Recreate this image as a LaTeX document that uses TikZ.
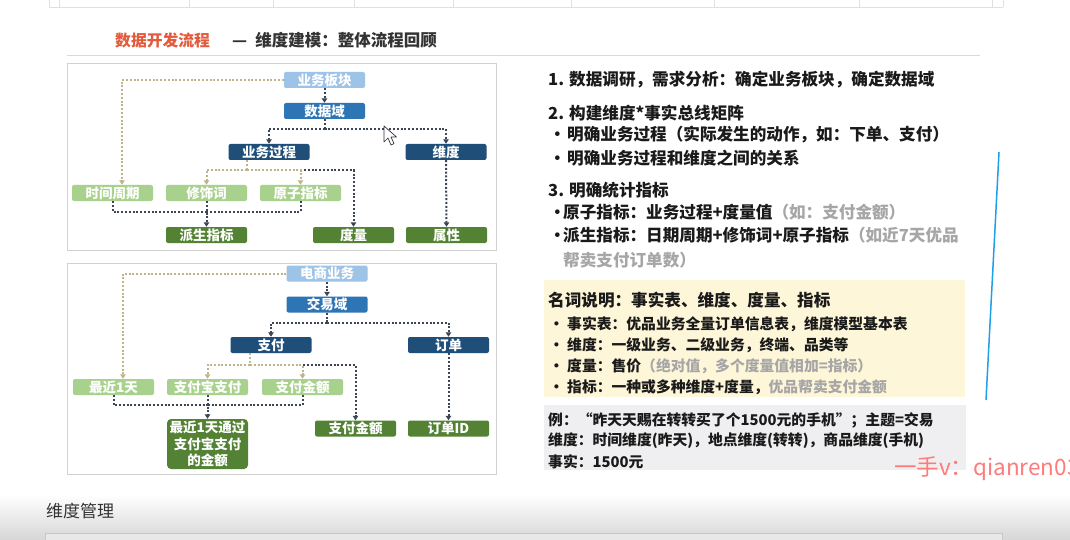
\documentclass[tikz,border=0pt]{standalone}
\usepackage{fontspec}
\setmainfont{Noto Sans CJK SC}
\usetikzlibrary{arrows.meta}
\definecolor{lblue}{HTML}{9DC3E6}
\definecolor{mblue}{HTML}{2E75B6}
\definecolor{navy}{HTML}{1F4E79}
\definecolor{lgreen}{HTML}{A9D18E}
\definecolor{dgreen}{HTML}{548235}
\definecolor{tanc}{HTML}{BEB58C}
\definecolor{dkc}{HTML}{3C4656}
\definecolor{titred}{HTML}{E35B3C}
\definecolor{txtc}{HTML}{1A1A1A}
\definecolor{lgray}{HTML}{A6A6A6}
\definecolor{ybox}{HTML}{FEF6D9}
\definecolor{gbox}{HTML}{EFEFF1}
\definecolor{wmark}{HTML}{FF7B7B}
\definecolor{bline}{HTML}{1EA0E6}
\begin{document}
\begin{tikzpicture}[x=1pt,y=-1pt,
  nbox/.style={minimum width=81pt,minimum height=16pt,inner sep=0pt,rounded corners=2pt,
     text=white,font=\fontsize{13.5}{15}\selectfont\bfseries},
  lb/.style={nbox,fill=lblue},
  mb/.style={nbox,fill=mblue},
  nv/.style={nbox,fill=navy},
  lg/.style={nbox,fill=lgreen},
  dg/.style={nbox,fill=dgreen},
  dotl/.style={line width=2pt,dash pattern=on 2pt off 1.8pt},
  tanl/.style={dotl,draw=tanc},
  dkl/.style={dotl,draw=dkc},
  arr/.style={-{Triangle[length=4.5pt,width=5.5pt]}},
  txt/.style={anchor=west,inner sep=0pt,text=txtc,font=\fontsize{16.6}{18}\selectfont\bfseries},
  stxt/.style={anchor=west,inner sep=0pt,text=txtc,font=\fontsize{14.8}{16}\selectfont\bfseries},
  panel/.style={draw=black!18,line width=0.8pt,fill=white}
]
\useasboundingbox (0,0) rectangle (1070,540);
\clip (0,0) rectangle (1070,540);
\fill[white] (0,0) rectangle (1070,540);

% faint table at top
\draw[black!12,line width=0.6pt] (49,7) -- (1003,7);
\foreach \xx in {49,59,189,273,354,453,571,714,859,992,1003}
  \draw[black!12,line width=0.6pt] (\xx,0) -- (\xx,7);

% title
\node[anchor=west,inner sep=0pt,text=titred,font=\fontsize{15.8}{17}\selectfont\bfseries] (tt1) at (115,40) {数据开发流程};
\node[anchor=west,inner sep=0pt,text=black!80,font=\fontsize{16.5}{18}\selectfont\bfseries] (tt2) at (232,40) {—\hspace{8pt}维度建模：整体流程回顾};
\draw[black!15,line width=0.8pt] (67,55) -- (980,55);

% panels
\draw[panel] (67,63) rectangle (496,250);
\draw[panel] (67,263) rectangle (496,474);

% ---- top diagram ----
\node[lb] (bk) at (324.5,80) {业务板块};
\node[mb] (sjy) at (324.5,111) {数据域};
\node[nv] (gc) at (269,152) {业务过程};
\node[nv] (wd) at (446,152) {维度};
\node[lg] (sq) at (112.5,193) {时间周期};
\node[lg] (xs) at (206.5,193) {修饰词};
\node[lg] (yz) at (300.5,193) {原子指标};
\node[dg] (ps) at (206.5,235) {派生指标};
\node[dg] (dl) at (353.5,235) {度量};
\node[dg] (sx) at (446.5,235) {属性};

\coordinate (j1) at (324.5,129);
\coordinate (j2) at (247,170);
\coordinate (j3) at (206.5,211.5);

\draw[tanl,arr] (bk.west) -| ([xshift=9.5pt]sq.north);
\draw[dkl,arr] (bk.south) -- (sjy.north);
\draw[dkl] (sjy.south) -- (j1);
\draw[dkl,arr] (j1) -| (gc.north);
\draw[dkl,arr] (j1) -| (wd.north);
\draw[tanl] ([xshift=-22pt]gc.south) -- (j2);
\draw[dkl,arr] (j2) -| (dl.north);
\draw[tanl,arr] (j2) -| (xs.north);
\draw[tanl,arr] (j2) -| (yz.north);
\draw[dkl] (sq.south) |- (j3);
\draw[dkl] (yz.south) |- (j3);
\draw[dkl,arr] (xs.south) -- (ps.north);
\draw[dkl,arr] (wd.south) -- (sx.north);

% cursor
\draw[black!80,fill=white,line width=0.7pt,line join=round] (384,126) -- ++(0,16) -- ++(4,-4) -- ++(3,7) -- ++(3,-1.4) -- ++(-3,-6.6) -- ++(5.5,0) -- cycle;

% ---- bottom diagram ----
\node[lb] (ds) at (327,273.5) {电商业务};
\node[mb] (jy) at (327,304.5) {交易域};
\node[nv] (zf) at (271,345) {支付};
\node[nv] (dd) at (448.5,345) {订单};
\node[lg] (zj) at (113.5,387) {最近1天};
\node[lg] (zfb) at (207.5,387) {支付宝支付};
\node[lg] (je) at (302.5,387) {支付金额};
\node[dg,minimum height=50pt,rounded corners=4pt,align=center,font=\fontsize{13.5}{16.5}\selectfont\bfseries] (res) at (207.5,444) {最近1天通过\\支付宝支付\\的金额};
\node[dg] (je2) at (355.5,428.5) {支付金额};
\node[dg] (id) at (448.5,428.5) {订单ID};

\coordinate (j4) at (327,322.5);
\coordinate (j5) at (250,365);
\coordinate (j6) at (207.5,405);

\draw[tanl,arr] (ds.west) -| ([xshift=9.5pt]zj.north);
\draw[dkl,arr] (ds.south) -- (jy.north);
\draw[dkl] (jy.south) -- (j4);
\draw[dkl,arr] (j4) -| (zf.north);
\draw[dkl,arr] (j4) -| (dd.north);
\draw[tanl] ([xshift=-21pt]zf.south) -- (j5);
\draw[dkl,arr] (j5) -| (je2.north);
\draw[tanl,arr] (j5) -| (zfb.north);
\draw[tanl,arr] (j5) -| (je.north);
\draw[dkl] (zj.south) |- (j6);
\draw[dkl] (je.south) |- (j6);
\draw[dkl,arr] (zfb.south) -- (res.north);
\draw[dkl,arr] (dd.south) -- (id.north);

% ---- right text ----
\node[txt] (r1) at (548,80) {1. 数据调研，需求分析：确定业务板块，确定数据域};
\node[txt] (r2) at (548,113) {2. 构建维度*事实总线矩阵};
\node[txt] (r3) at (549,135) {\makebox[18pt][l]{•}明确业务过程（实际发生的动作，如：下单、支付）};
\node[txt] (r4) at (549,158) {\makebox[18pt][l]{•}明确业务过程和维度之间的关系};
\node[txt] (r5) at (548,190) {3. 明确统计指标};
\node[txt] (r6) at (549,212) {\makebox[14pt][l]{•}原子指标：业务过程+度量值\textcolor{lgray}{（如：支付金额）}};
\node[txt] (r7) at (549,235) {\makebox[14pt][l]{•}派生指标：日期周期+修饰词+原子指标\textcolor{lgray}{（如近7天优品}};
\node[txt,text=lgray] (r8) at (563,260) {帮卖支付订单数）};

% yellow box
\fill[ybox] (544,280) rectangle (965,397);
\node[txt] (y0) at (548,300) {名词说明：事实表、维度、度量、指标};
\node[stxt] (y1) at (549,324) {\makebox[18pt][l]{•}事实表：优品业务全量订单信息表，维度模型基本表};
\node[stxt] (y2) at (549,345) {\makebox[18pt][l]{•}维度：一级业务、二级业务，终端、品类等};
\node[stxt] (y3) at (549,366) {\makebox[18pt][l]{•}度量：售价\textcolor{lgray}{（绝对值，多个度量值相加=指标）}};
\node[stxt] (y4) at (549,387) {\makebox[18pt][l]{•}指标：一种或多种维度+度量，\textcolor{lgray}{优品帮卖支付金额}};

% gray box
\fill[gbox] (544,405) rectangle (966,470);
\node[stxt] (g1) at (548,420) {例：“昨天天赐在转转买了个1500元的手机”；主题=交易};
\node[stxt] (g2) at (548,441) {维度：时间维度(昨天)，地点维度(转转)，商品维度(手机)};
\node[stxt] (g3) at (548,462) {事实：1500元};

% watermark
\node[anchor=west,inner sep=0pt,text=wmark,font=\fontsize{22.5}{24}\selectfont] (wm) at (894,469) {一手v：qianren03};

% blue pen line
\draw[bline,line width=1.5pt] (999,152) -- (986,400);

% bottom area
\shade[top color=white,bottom color=black!16] (0,495) rectangle (1070,540);
\node[anchor=west,inner sep=0pt,text=black!80,font=\fontsize{17}{19}\selectfont] (bt) at (46,511) {维度管理};
\draw[black!22,fill=black!9,line width=0.8pt] (45,533) rectangle (1002,548);
\end{tikzpicture}
\end{document}
